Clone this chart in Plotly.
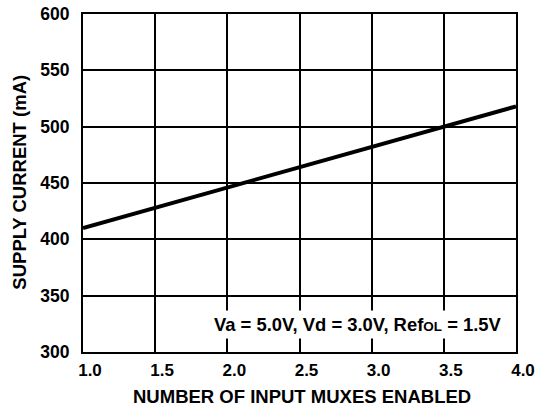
import plotly.graph_objects as go

muxes = [1.0, 2.0, 3.0, 4.0]
supply_current = [410, 446, 482, 518]

x_ticks = [1.0, 1.5, 2.0, 2.5, 3.0, 3.5, 4.0]
x_tick_labels = ["1.0", "1.5", "2.0", "2.5", "3.0", "3.5", "4.0"]
y_ticks = [300, 350, 400, 450, 500, 550, 600]
y_tick_labels = ["300", "350", "400", "450", "500", "550", "600"]

font = "Liberation Sans, Arial, sans-serif"

fig = go.Figure()
fig.add_trace(go.Scatter(x=muxes, y=supply_current, mode="lines",
                         line=dict(color="black", width=4), showlegend=False,
                         hoverinfo="skip"))

fig.update_layout(
    width=538, height=407,
    margin=dict(l=83, r=22, t=14, b=55),
    paper_bgcolor="white", plot_bgcolor="white",
    font=dict(family=font, size=16, color="black"),
    xaxis=dict(range=[1.0, 4.0], tickvals=x_ticks,
               ticktext=["<b>%s</b>" % t for t in x_tick_labels],
               showgrid=True, gridcolor="black", gridwidth=2,
               showline=True, linecolor="black", linewidth=2, mirror=True,
               zeroline=False, ticks="outside", ticklen=2, tickcolor="white",
               ticklabelshift=7, automargin=False,
               tickfont=dict(family=font, size=17)),
    yaxis=dict(range=[300, 600], tickvals=y_ticks,
               ticktext=["<b>%s</b>" % t for t in y_tick_labels],
               showgrid=True, gridcolor="black", gridwidth=2,
               showline=True, linecolor="black", linewidth=2, mirror=True,
               zeroline=False, ticks="outside", ticklen=8, tickcolor="white",
               automargin=False,
               tickfont=dict(family=font, size=17.5)),
)

fig.add_annotation(
    x=0.506, y=-0.132, xref="paper", yref="paper", xanchor="center", yanchor="middle",
    text="<b>NUMBER OF INPUT MUXES ENABLED</b>", showarrow=False,
    font=dict(family=font, size=18.5, color="black"),
)
fig.add_annotation(
    x=-0.1455, y=0.504, xref="paper", yref="paper", xanchor="center", yanchor="middle",
    text="<b>SUPPLY CURRENT (mA)</b>", showarrow=False, textangle=-90,
    font=dict(family=font, size=18.5, color="black"),
)
fig.add_annotation(
    x=3.931, y=324.5, xref="x", yref="y", xanchor="right", yanchor="middle",
    text="<b>Va = 5.0V, Vd = 3.0V, Ref<span style='font-size:13.5px'>OL</span> = 1.5V</b>",
    showarrow=False, bgcolor="white", borderpad=3,
    font=dict(family=font, size=18.4, color="black"),
)

fig.write_html("out.html", config={"displayModeBar": False},
               post_script="document.body.style.margin='0';")
